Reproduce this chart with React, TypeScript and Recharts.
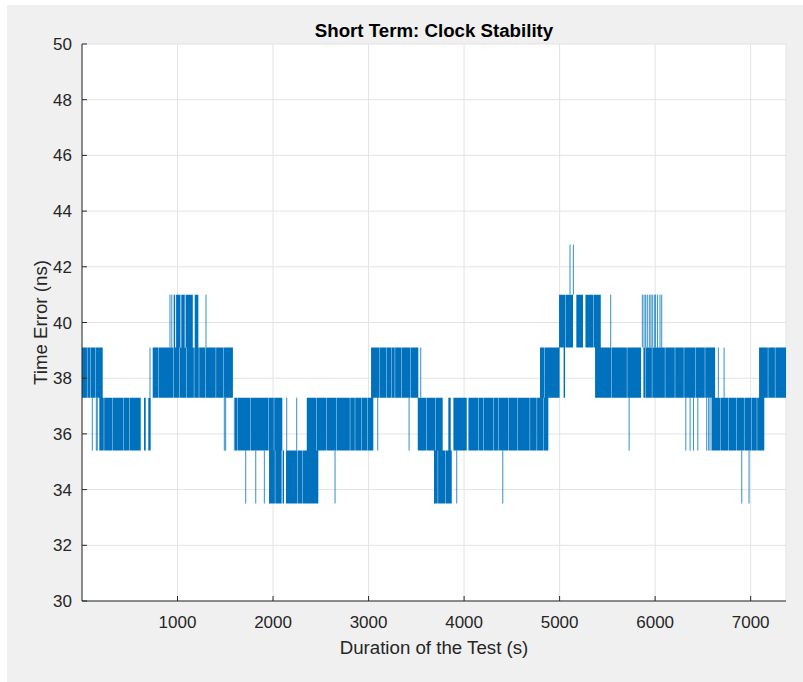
import React from 'react';
import { ComposedChart, Area, Line, XAxis, YAxis, CartesianGrid, Label } from 'recharts';

// axes
const xTicks = [1000, 2000, 3000, 4000, 5000, 6000, 7000];
const yTicks = [30, 32, 34, 36, 38, 40, 42, 44, 46, 48, 50];
const xDomain: [number, number] = [0, 7370];
const yDomain: [number, number] = [30, 50];

// quantised time-error levels (ns)
const levels = [33.5, 35.4, 37.3, 39.1, 41.0, 42.8];

// spans of dense toggling between two adjacent levels [start s, end s]
const band33to35 = [[1958, 2019], [2023, 2090], [2100, 2115], [2135, 2254], [2258, 2304], [2308, 2474], [3685, 3724], [3728, 3804], [3808, 3871]];
const band35to37 = [[181, 228], [232, 315], [319, 430], [434, 493], [497, 615], [649, 667], [694, 719], [1602, 1624], [1628, 1760], [1764, 1949], [1953, 2008], [2012, 2097], [2353, 2450], [2454, 2560], [2564, 2664], [2668, 2804], [2808, 2856], [2860, 2925], [2929, 2990], [2994, 3050], [3515, 3604], [3608, 3700], [3704, 3776], [3835, 3860], [3888, 4028], [4045, 4146], [4150, 4200], [4204, 4305], [4309, 4357], [4361, 4460], [4464, 4560], [4564, 4687], [4691, 4760], [4764, 4827], [4831, 4882], [6590, 6680], [6684, 6764], [6768, 6850], [6854, 6930], [6934, 7009], [7013, 7064], [7068, 7143]];
const band37to39 = [[0, 52], [56, 90], [94, 142], [146, 217], [740, 798], [802, 953], [957, 1018], [1022, 1093], [1097, 1171], [1175, 1223], [1227, 1288], [1292, 1400], [1404, 1480], [1484, 1580], [3026, 3116], [3120, 3188], [3192, 3240], [3244, 3274], [3278, 3345], [3349, 3440], [3444, 3521], [4795, 4843], [4847, 5000], [5042, 5057], [5371, 5544], [5548, 5704], [5708, 5853], [5877, 5898], [5902, 5966], [5970, 6102], [6106, 6206], [6210, 6300], [6304, 6420], [6424, 6520], [6524, 6628], [7088, 7180], [7184, 7254], [7258, 7370]];
const band39to41 = [[960, 975], [985, 1030], [1045, 1070], [1085, 1160], [1180, 1218], [4994, 5060], [5064, 5140], [5175, 5245], [5270, 5350], [5354, 5431]];

// isolated single toggles between two adjacent levels (s)
const spikes33to35 = [1714, 1819, 1909, 2649, 3923, 4405, 6907, 6983];
const spikes35to37 = [108, 150, 160, 1490, 1504, 1595, 2143, 2248, 3096, 3424, 5728, 6321, 6366, 6401, 6447, 6540, 6560, 6575];
const spikes37to39 = [712, 3546, 6662, 6722];
const spikes39to41 = [921, 940, 1040, 1075, 1298, 5535, 5866, 5884, 5901, 5918, 5939, 5956, 5970, 5991, 6005, 6026, 6051, 6069];
const spikes41to43 = [5109, 5144];

const bandSets = [
  { lo: levels[0], hi: levels[1], spans: band33to35 },
  { lo: levels[1], hi: levels[2], spans: band35to37 },
  { lo: levels[2], hi: levels[3], spans: band37to39 },
  { lo: levels[3], hi: levels[4], spans: band39to41 },
];
const spikeSets = [
  { lo: levels[0], hi: levels[1], times: spikes33to35 },
  { lo: levels[1], hi: levels[2], times: spikes35to37 },
  { lo: levels[2], hi: levels[3], times: spikes37to39 },
  { lo: levels[3], hi: levels[4], times: spikes39to41 },
  { lo: levels[4], hi: levels[5], times: spikes41to43 },
];

const chartData: any[] = [];
bandSets.forEach(({ lo, hi, spans }) => {
  spans.forEach(([a, b]) => {
    chartData.push({ t: a, r: [lo, hi] }, { t: b, r: [lo, hi] }, { t: b, r: null });
  });
});
spikeSets.forEach(({ lo, hi, times }) => {
  times.forEach((t) => {
    chartData.push({ t, v: lo }, { t, v: hi }, { t, v: null });
  });
});

const FONT = '"Liberation Sans", Arial, Helvetica, sans-serif';
const AXIS = '#262626';
const BLUE = '#0072BD';

export default function App() {
  return (
    <div style={{ position: 'absolute', left: 0, top: 0, width: 803, height: 682, background: '#ffffff', overflow: 'hidden' }}>
      <div style={{ position: 'absolute', left: 7, top: 5, width: 796, height: 677, background: '#f0f0f0' }} />
      <div style={{ position: 'absolute', left: 0, top: 0 }}>
        <ComposedChart width={803} height={682} data={chartData} margin={{ top: 44, right: 17, bottom: 41, left: 22 }}>
          <CartesianGrid stroke="#e3e3e3" fill="#ffffff" fillOpacity={1} />
          <XAxis
            type="number"
            dataKey="t"
            domain={xDomain}
            ticks={xTicks}
            allowDataOverflow
            interval={0}
            height={40}
            tickSize={-5}
            tickMargin={20}
            axisLine={{ stroke: AXIS }}
            tickLine={{ stroke: AXIS }}
            tick={{ fill: AXIS, fontSize: 17, fontFamily: FONT }}
          >
            <Label
              content={(p: any) => {
                const vb = p.viewBox || { x: 82, y: 601, width: 704 };
                return (
                  <text x={vb.x + vb.width / 2} y={vb.y + 53} textAnchor="middle" fontSize={18.7} fill={AXIS} fontFamily={FONT}>
                    Duration of the Test (s)
                  </text>
                );
              }}
            />
          </XAxis>
          <YAxis
            type="number"
            domain={yDomain}
            ticks={yTicks}
            allowDataOverflow
            interval={0}
            width={60}
            tickSize={-5}
            tickMargin={15}
            axisLine={{ stroke: AXIS }}
            tickLine={{ stroke: AXIS }}
            tick={{ fill: AXIS, fontSize: 17, fontFamily: FONT }}
          >
            <Label
              content={(p: any) => {
                const vb = p.viewBox || { x: 22, y: 44, height: 557 };
                const cx = vb.x + 18;
                const cy = vb.y + vb.height / 2;
                return (
                  <text x={cx} y={cy} dy="0.35em" transform={`rotate(-90, ${cx}, ${cy})`} textAnchor="middle" fontSize={18.7} fill={AXIS} fontFamily={FONT}>
                    Time Error (ns)
                  </text>
                );
              }}
            />
          </YAxis>
          <Area dataKey="r" type="linear" stroke="none" fill={BLUE} fillOpacity={1} dot={false} activeDot={false} connectNulls={false} isAnimationActive={false} />
          <Line dataKey="v" type="linear" stroke={BLUE} strokeWidth={1} strokeOpacity={0.8} dot={false} activeDot={false} connectNulls={false} isAnimationActive={false} />
        </ComposedChart>
      </div>
      <svg width={803} height={60} style={{ position: 'absolute', left: 0, top: 0 }}>
        <text x={434} y={37} textAnchor="middle" fontSize={18.7} fontWeight="bold" fill="#000000" fontFamily={FONT}>
          Short Term: Clock Stability
        </text>
      </svg>
    </div>
  );
}
